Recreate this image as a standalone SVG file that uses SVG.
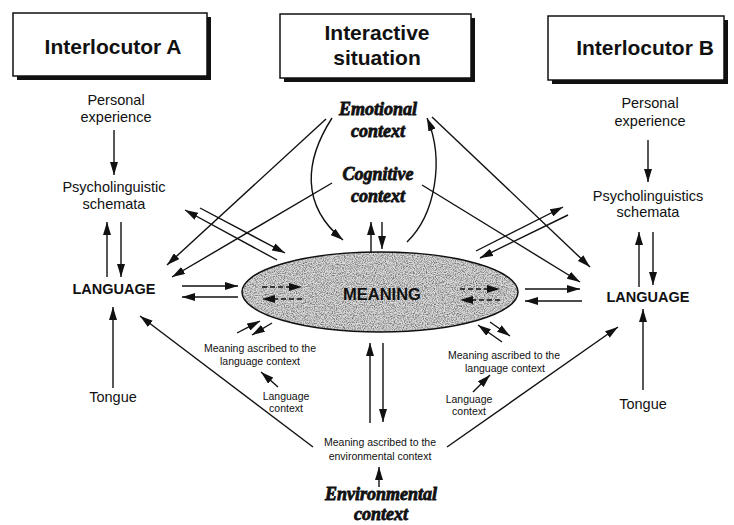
<svg xmlns="http://www.w3.org/2000/svg" width="734" height="525" viewBox="0 0 734 525">
  <style>
    .sans { font-family: "Liberation Sans", Arial, sans-serif; fill: #111; }
    .title { font-size: 21px; font-weight: bold; text-anchor: middle; }
    .label { font-size: 14.5px; text-anchor: middle; }
    .big { font-size: 14.5px; font-weight: bold; text-anchor: middle; }
    .small { font-size: 10.5px; text-anchor: middle; }
    .ctx { font-family: "Liberation Serif", "Times New Roman", serif; font-size: 18px; font-weight: bold; font-style: italic; text-anchor: middle; fill: #111; stroke: #111; stroke-width: 0.8; }
    .box { fill: #fff; stroke: #111; stroke-width: 1.5; }
    .shadow { fill: #111; }
    .conn line, .conn path { stroke: #111; stroke-width: 1.4; fill: none; marker-end: url(#ah); }
    .conn .dash { stroke-dasharray: 5 3; }
  </style>
  <defs>
    <marker id="ah" viewBox="0 0 13 8" refX="13" refY="4" markerWidth="13" markerHeight="8" markerUnits="userSpaceOnUse" orient="auto">
      <path d="M0,0 L13,4 L0,8 z" fill="#111"/>
    </marker>
    <!-- speckled grey texture for the central ellipse -->
    <filter id="grain" x="0" y="0" width="100%" height="100%">
      <feTurbulence type="fractalNoise" baseFrequency="0.9" numOctaves="2" seed="7" result="noise"/>
      <feColorMatrix in="noise" type="matrix" values="0 0 0 0 0  0 0 0 0 0  0 0 0 0 0  2.2 0 0 0 -0.85" result="dots"/>
      <feComposite in="dots" in2="SourceGraphic" operator="in"/>
    </filter>
  </defs>

  <rect width="734" height="525" fill="#fff"/>

  <!-- header boxes -->
  <g id="box-interlocutor-a">
    <rect class="shadow" x="17" y="17" width="194" height="63"/>
    <rect class="box" x="13" y="13" width="194" height="63"/>
    <text class="sans title" x="113" y="54">Interlocutor A</text>
  </g>
  <g id="box-interactive-situation">
    <rect class="shadow" x="284" y="18" width="191" height="64"/>
    <rect class="box" x="280" y="14" width="191" height="64"/>
    <text class="sans title" x="377" y="40">Interactive</text>
    <text class="sans title" x="377" y="65">situation</text>
  </g>
  <g id="box-interlocutor-b">
    <rect class="shadow" x="552" y="20" width="176" height="64"/>
    <rect class="box" x="548" y="16" width="176" height="64"/>
    <text class="sans title" x="645" y="55">Interlocutor B</text>
  </g>

  <!-- interlocutor A column -->
  <g id="personal-experience-a">
    <text class="sans label" x="116" y="105">Personal</text>
    <text class="sans label" x="116" y="122">experience</text>
  </g>
  <g id="schemata-a">
    <text class="sans label" x="114" y="192">Psycholinguistic</text>
    <text class="sans label" x="114" y="209">schemata</text>
  </g>
  <g id="language-a">
    <text class="sans big" x="114" y="294">LANGUAGE</text>
  </g>
  <g id="tongue-a">
    <text class="sans label" x="113" y="402">Tongue</text>
  </g>

  <!-- interlocutor B column -->
  <g id="personal-experience-b">
    <text class="sans label" x="650" y="108">Personal</text>
    <text class="sans label" x="650" y="126">experience</text>
  </g>
  <g id="schemata-b">
    <text class="sans label" x="648" y="201">Psycholinguistics</text>
    <text class="sans label" x="648" y="217">schemata</text>
  </g>
  <g id="language-b">
    <text class="sans big" x="648" y="302">LANGUAGE</text>
  </g>
  <g id="tongue-b">
    <text class="sans label" x="643" y="409">Tongue</text>
  </g>

  <!-- contexts -->
  <g id="emotional-context">
    <text class="ctx" x="378" y="115">Emotional</text>
    <text class="ctx" x="378" y="137">context</text>
  </g>
  <g id="cognitive-context">
    <text class="ctx" x="378" y="180">Cognitive</text>
    <text class="ctx" x="378" y="202">context</text>
  </g>
  <g id="environmental-context">
    <text class="ctx" x="381" y="500">Environmental</text>
    <text class="ctx" x="381" y="520">context</text>
  </g>

  <!-- meaning ellipse -->
  <g id="meaning">
    <ellipse cx="380" cy="292" rx="138" ry="40" fill="#dadada"/>
    <ellipse cx="380" cy="292" rx="138" ry="40" fill="#000" opacity="0.55" filter="url(#grain)"/>
    <ellipse cx="380" cy="292" rx="138" ry="40" fill="none" stroke="#111" stroke-width="1.5"/>
    <text class="sans" x="382" y="300" font-size="16.5" font-weight="bold" text-anchor="middle">MEANING</text>
  </g>

  <!-- ascribed meanings -->
  <g id="language-meaning-a">
    <text class="sans small" x="260" y="352">Meaning ascribed to the</text>
    <text class="sans small" x="260" y="365">language context</text>
  </g>
  <g id="language-context-a">
    <text class="sans small" x="286" y="400">Language</text>
    <text class="sans small" x="286" y="412">context</text>
  </g>
  <g id="language-meaning-b">
    <text class="sans small" x="504" y="359">Meaning ascribed to the</text>
    <text class="sans small" x="505" y="372">language context</text>
  </g>
  <g id="language-context-b">
    <text class="sans small" x="469" y="403">Language</text>
    <text class="sans small" x="469" y="415">context</text>
  </g>
  <g id="environmental-meaning">
    <text class="sans small" x="380" y="446">Meaning ascribed to the</text>
    <text class="sans small" x="380" y="460">environmental context</text>
  </g>

  <!-- connectors -->
  <g id="connectors" class="conn">
    <line x1="114" y1="130" x2="114" y2="175"/>
    <line x1="121" y1="222" x2="121" y2="277"/>
    <line x1="107" y1="277" x2="107" y2="222"/>
    <line x1="113" y1="388" x2="113" y2="307"/>
    <line x1="182" y1="286" x2="238" y2="286"/>
    <line x1="238" y1="297" x2="182" y2="297"/>
    <line x1="326" y1="119" x2="167" y2="265"/>
    <line x1="332" y1="183" x2="172" y2="277"/>
    <line x1="277" y1="260" x2="185" y2="210"/>
    <line x1="200" y1="208" x2="285" y2="253"/>
    <path d="M332,118 C305,160 300,205 343,240"/>
    <path d="M407,242 C435,215 445,160 427,118"/>
    <line x1="371" y1="252" x2="371" y2="222"/>
    <line x1="382" y1="222" x2="382" y2="249"/>
    <line x1="432" y1="117" x2="590" y2="267"/>
    <line x1="422" y1="185" x2="580" y2="282"/>
    <line x1="476" y1="251" x2="563" y2="207"/>
    <line x1="568" y1="215" x2="480" y2="258"/>
    <line x1="525" y1="289" x2="580" y2="289"/>
    <line x1="582" y1="301" x2="525" y2="301"/>
    <line x1="648" y1="140" x2="648" y2="182"/>
    <line x1="639" y1="287" x2="639" y2="232"/>
    <line x1="653" y1="232" x2="653" y2="285"/>
    <line x1="643" y1="390" x2="643" y2="309"/>
    <line x1="237" y1="333" x2="260" y2="321"/>
    <line x1="272" y1="323" x2="252" y2="335"/>
    <line x1="278" y1="387" x2="261" y2="372"/>
    <line x1="370" y1="423" x2="370" y2="343"/>
    <line x1="383" y1="343" x2="383" y2="422"/>
    <line x1="379" y1="487" x2="379" y2="467"/>
    <line x1="313" y1="447" x2="140" y2="316"/>
    <line x1="447" y1="447" x2="618" y2="327"/>
    <line x1="502" y1="342" x2="478" y2="325"/>
    <line x1="490" y1="322" x2="510" y2="336"/>
    <line x1="473" y1="392" x2="490" y2="375"/>
    <line class="dash" x1="262" y1="287" x2="302" y2="287"/>
    <line class="dash" x1="302" y1="299" x2="262" y2="299"/>
    <line class="dash" x1="460" y1="289" x2="500" y2="289"/>
    <line class="dash" x1="500" y1="300" x2="460" y2="300"/>
  </g>
</svg>
